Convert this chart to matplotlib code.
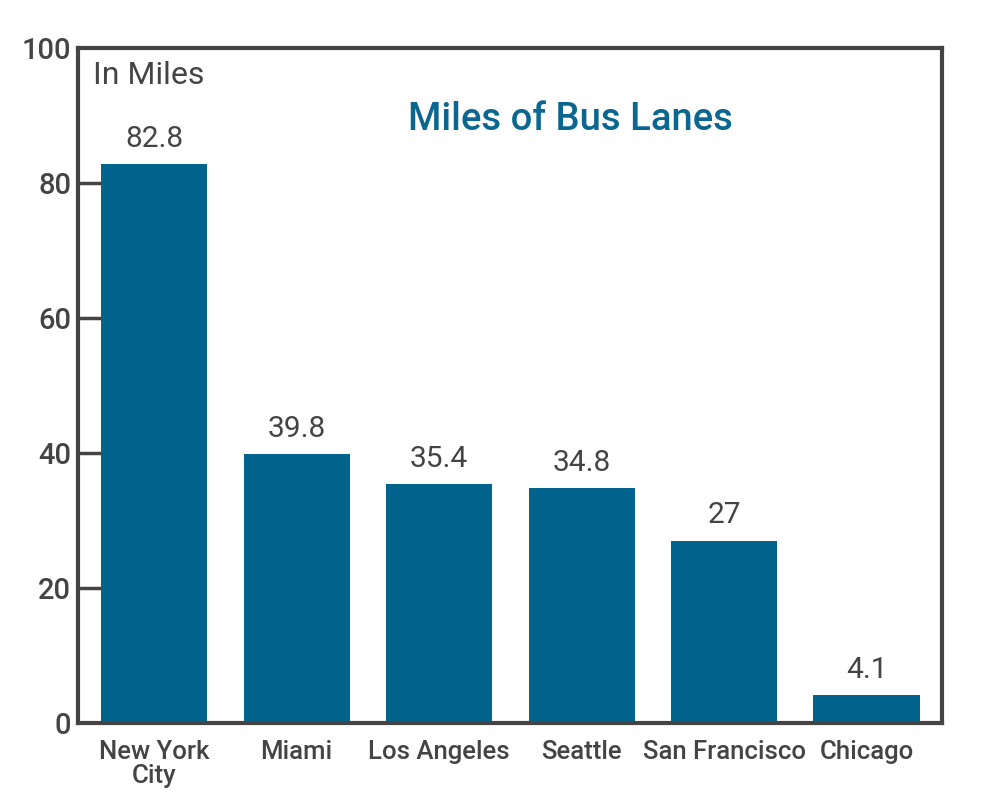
import matplotlib.pyplot as plt

# --- DATA ---
cities = ["New York\nCity", "Miami", "Los Angeles", "Seattle", "San Francisco", "Chicago"]
miles = [82.8, 39.8, 35.4, 34.8, 27, 4.1]
value_labels = ["82.8", "39.8", "35.4", "34.8", "27", "4.1"]
yticks = [0, 20, 40, 60, 80, 100]

bar_color = "#02638d"
text_color = "#444444"
title_color = "#0b6790"

plt.rcParams['font.family'] = ['Roboto', 'DejaVu Sans']

fig = plt.figure(figsize=(9.96, 8.08), dpi=100)
ax = fig.add_axes([78 / 996, 1 - 723 / 808, 864 / 996, 675 / 808])

x = range(len(cities))
ax.bar(x, miles, width=0.745, color=bar_color, zorder=2)

for i, (v, lab) in enumerate(zip(miles, value_labels)):
    ax.text(i, v + 1.7, lab, ha="center", va="bottom", fontsize=21.5,
            color=text_color)

ax.set_xlim(-0.535, 5.53)
ax.set_ylim(0, 100)
ax.set_yticks(yticks)
ax.set_yticklabels([str(t) for t in yticks], fontsize=21, color=text_color,
                   fontweight="medium")
ax.set_xticks(list(x))
ax.set_xticklabels(cities, fontsize=18.5, color=text_color, linespacing=1.0,
                   fontweight="medium")

ax.tick_params(axis="y", direction="in", length=20, width=2.5, color=text_color, pad=5)
ax.tick_params(axis="x", length=0, pad=12)

# ticks at 0 and 100 sit on the frame, hide them
ax.yaxis.get_major_ticks()[0].tick1line.set_visible(False)
ax.yaxis.get_major_ticks()[-1].tick1line.set_visible(False)

for s in ax.spines.values():
    s.set_linewidth(3)
    s.set_color(text_color)

ax.text(0.017, 0.98, "In Miles", transform=ax.transAxes, ha="left", va="top",
        fontsize=23, color=text_color)
ax.text(0.57, 0.894, "Miles of Bus Lanes", transform=ax.transAxes, ha="center",
        va="center", fontsize=27.5, color=title_color, fontweight="medium")

fig.savefig("out.png", dpi=100)
